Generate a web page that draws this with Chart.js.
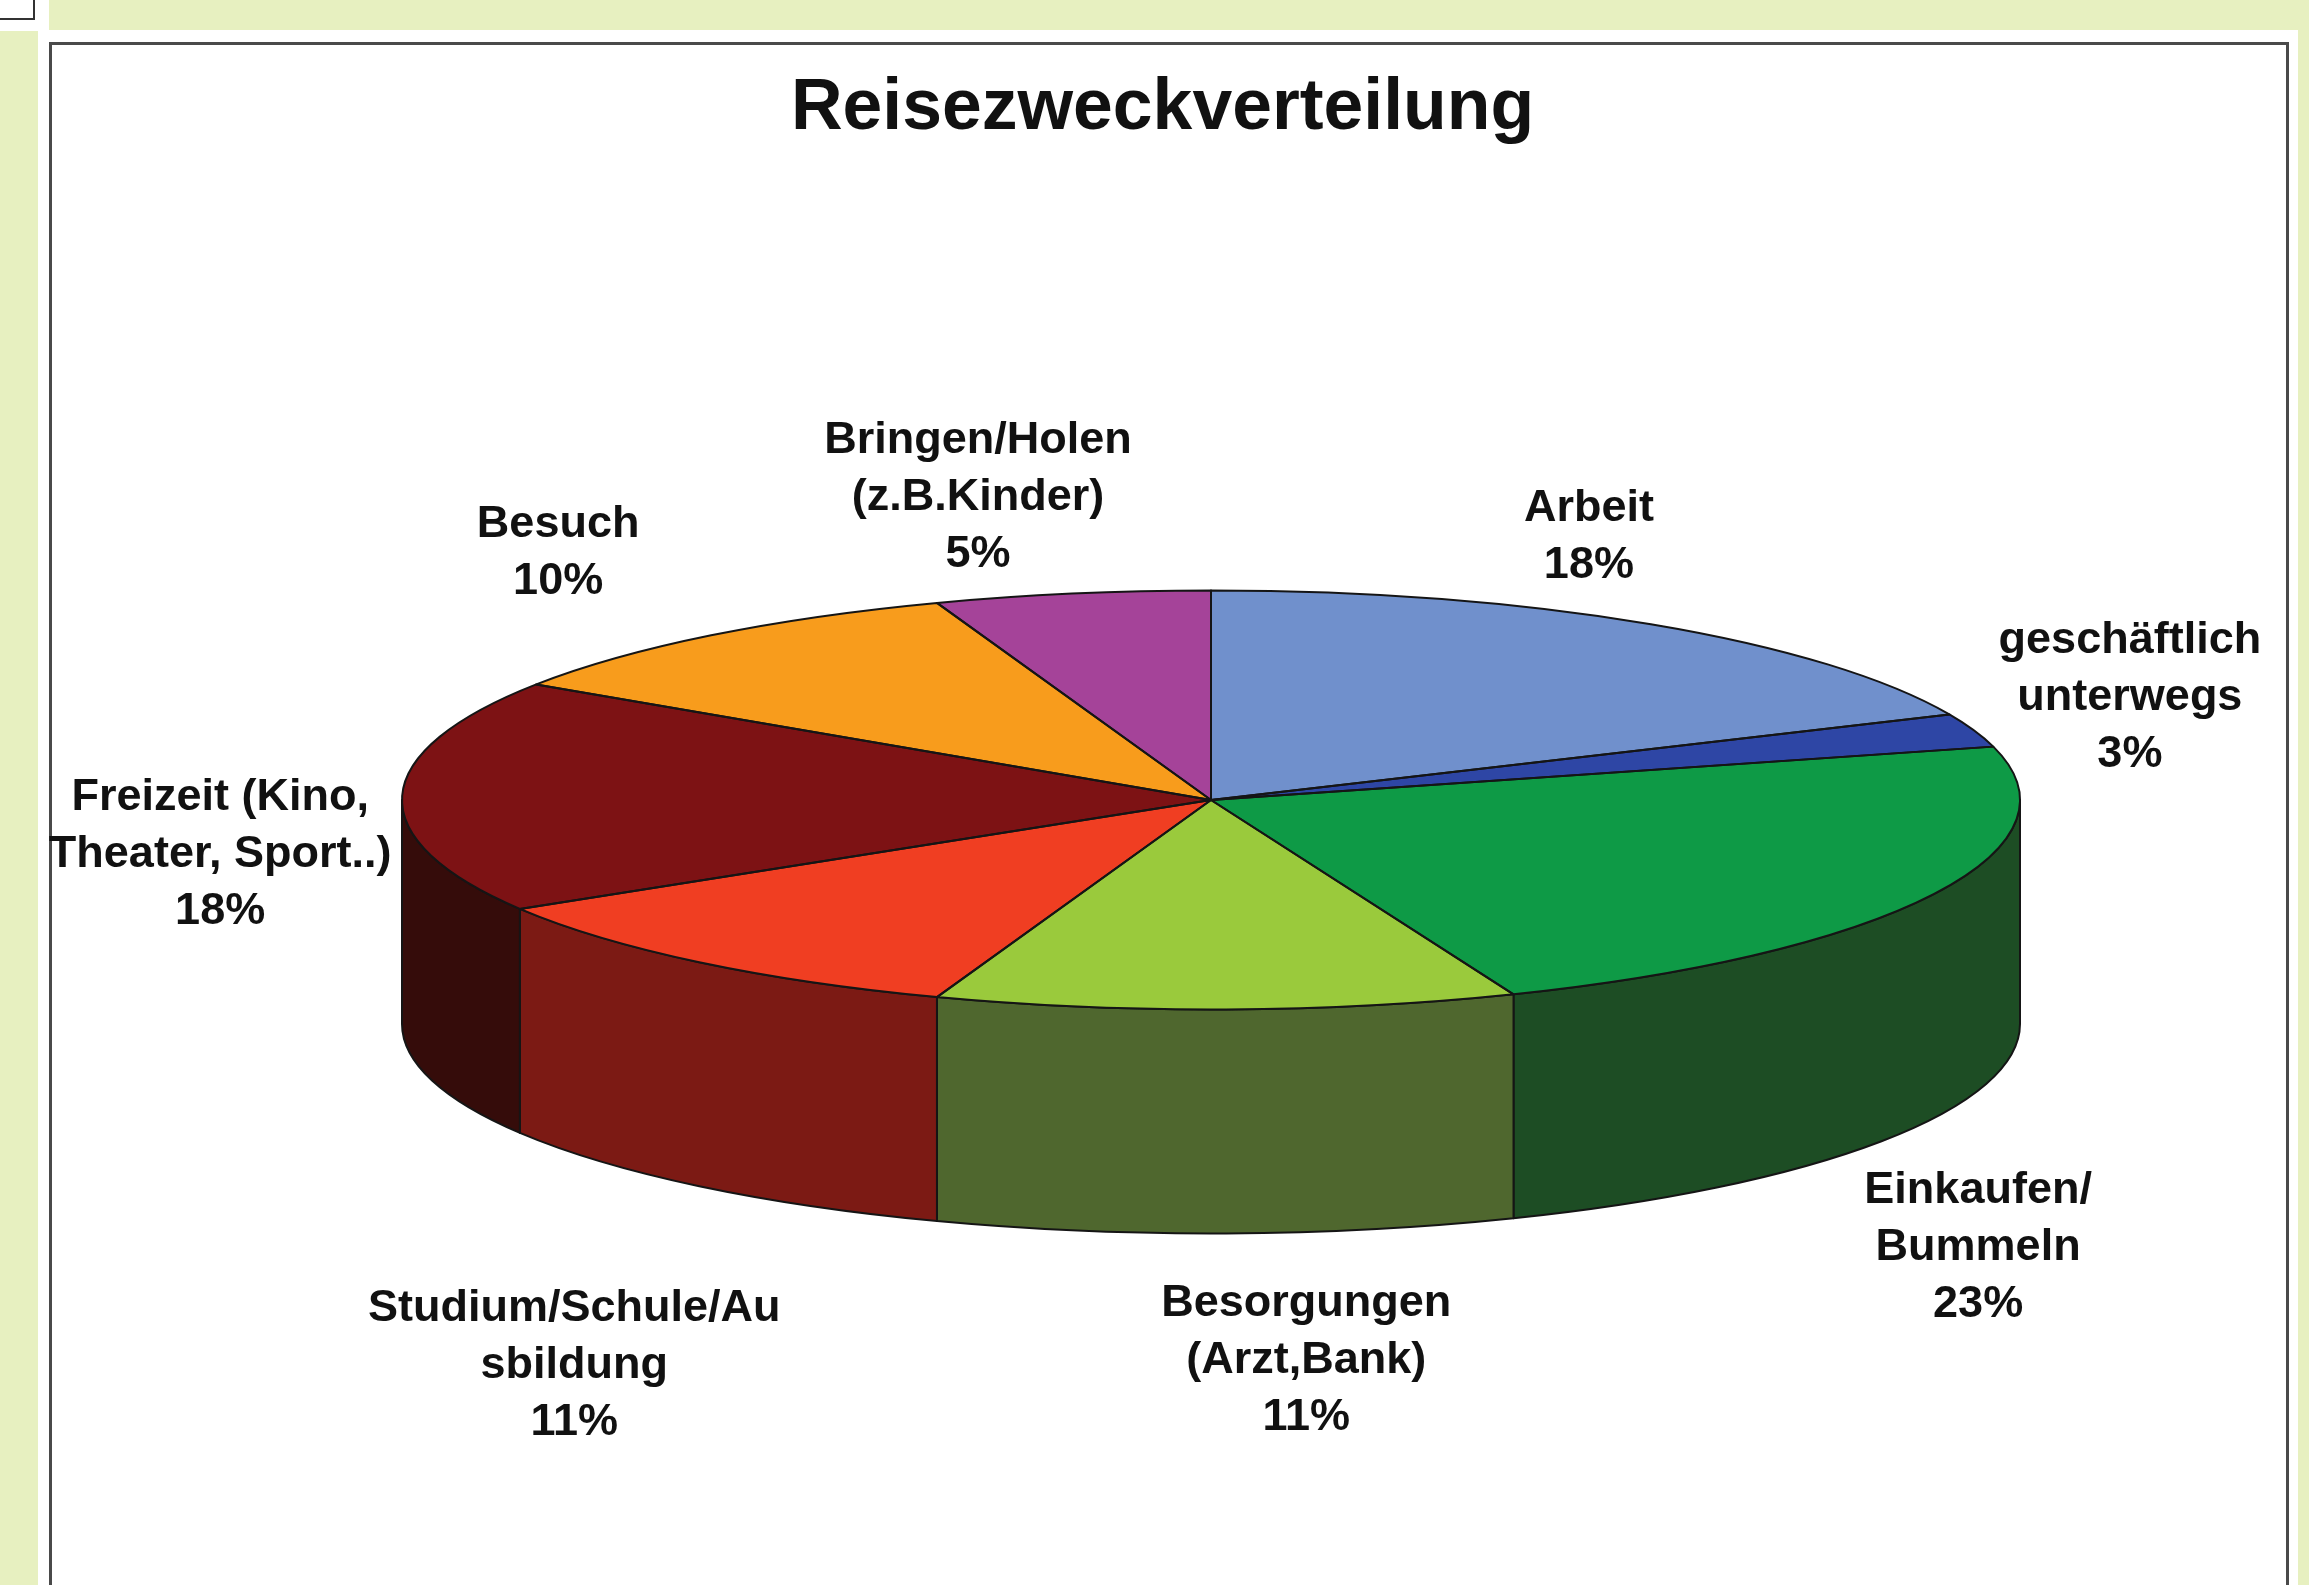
<!DOCTYPE html>
<html lang="de">
<head>
<meta charset="utf-8">
<title>Reisezweckverteilung</title>
<script src="https://cdn.jsdelivr.net/npm/chart.js@4"></script>
<style>
html,body{margin:0;padding:0;width:2309px;height:1585px;overflow:hidden;background:#fff}
.strip{position:absolute;background:#E7F0C0}
#corner{position:absolute;left:-4px;top:-4px;width:35px;height:20px;border:2.5px solid #333;background:#fff}
#frame{position:absolute;left:49px;top:42px;width:2234px;height:1600px;border:3px solid #4a4a4a;background:#fff}
#chart{position:absolute;left:39px;top:0}
</style>
</head>
<body>
<div class="strip" style="left:49px;top:0;width:2260px;height:30px"></div>
<div class="strip" style="left:0;top:31px;width:38px;height:1554px"></div>
<div class="strip" style="left:2298px;top:30px;width:11px;height:1555px"></div>
<div id="corner"></div>
<div id="frame"></div>
<canvas id="chart" width="2247" height="1585"></canvas>
<script>
const chartTitle = 'Reisezweckverteilung';
const categories = ['Arbeit', 'geschäftlich\nunterwegs', 'Einkaufen/\nBummeln', 'Besorgungen\n(Arzt,Bank)',
  'Studium/Schule/Au\nsbildung', 'Freizeit (Kino,\nTheater, Sport..)', 'Besuch', 'Bringen/Holen\n(z.B.Kinder)'];
const sliceValues = [18.3, 2.6, 23.0, 11.6, 10.8, 18.0, 10.2, 5.5];
const percentLabels = ['18%', '3%', '23%', '11%', '11%', '18%', '10%', '5%'];
const topColors = ['#7090CC', '#2E46A5', '#0E9A46', '#9ACA3C', '#F03E22', '#7D1214', '#F89C1C', '#A54399'];
const wallColors = ['#4A6088', '#1F2F6E', '#1D4D24', '#4F672E', '#7C1A14', '#350C0A', '#A5680F', '#6E2C66'];

// Layout of the tilted drawing
const TILT = 209.5 / 809;   // vertical squash of the pie disc
const RADIUS = 809;
const DEPTH = 224;
const CENTER_Y = 800;
const SHIFT_X = 48.5;       // the disc sits right of the title's centre
const LABEL_NUDGE = [[-62,-87],[156,-33],[44,354],[80,351],[-125,403],[-182,59],[-153,-82],[-94,-96]];
const LABEL_FONT = 'bold 45px "Liberation Sans", Arial, sans-serif';
const LABEL_LINE = 57;
const EDGE = '#151515';

const tilted3d = {
  id: 'tilted3d',
  beforeDatasetsDraw(chart) {
    const ctx = chart.ctx, arcs = chart.getDatasetMeta(0).data;
    ctx.save();
    ctx.lineWidth = 2; ctx.strokeStyle = EDGE; ctx.lineJoin = 'round';
    arcs.forEach((arc, i) => {
      const a0 = Math.max(arc.startAngle, 0), a1 = Math.min(arc.endAngle, Math.PI);
      if (a1 <= a0) return;
      const rx = arc.outerRadius, ry = rx * TILT, cx = arc.x + SHIFT_X;
      ctx.beginPath();
      ctx.ellipse(cx, CENTER_Y, rx, ry, 0, a0, a1);
      ctx.ellipse(cx, CENTER_Y + DEPTH, rx, ry, 0, a1, a0, true);
      ctx.closePath();
      ctx.fillStyle = wallColors[i];
      ctx.fill(); ctx.stroke();
    });
    ctx.restore();
    // squash the library's own arcs into the tilted disc
    const y0 = arcs[0].y;
    ctx.save();
    ctx.translate(SHIFT_X, CENTER_Y); ctx.scale(1, TILT); ctx.translate(0, -y0);
  },
  afterDatasetsDraw(chart) {
    const ctx = chart.ctx, arcs = chart.getDatasetMeta(0).data;
    ctx.restore();
    ctx.save();
    ctx.lineWidth = 2; ctx.strokeStyle = EDGE; ctx.lineJoin = 'round';
    arcs.forEach(arc => {
      const rx = arc.outerRadius, ry = rx * TILT, cx = arc.x + SHIFT_X;
      ctx.beginPath();
      ctx.moveTo(cx, CENTER_Y);
      ctx.ellipse(cx, CENTER_Y, rx, ry, 0, arc.startAngle, arc.endAngle);
      ctx.closePath();
      ctx.stroke();
    });
    ctx.font = LABEL_FONT; ctx.fillStyle = '#111'; ctx.textAlign = 'center'; ctx.textBaseline = 'middle';
    arcs.forEach((arc, i) => {
      const mid = (arc.startAngle + arc.endAngle) / 2, rx = arc.outerRadius, ry = rx * TILT;
      const x = arc.x + SHIFT_X + rx * Math.cos(mid) + LABEL_NUDGE[i][0];
      const y = CENTER_Y + ry * Math.sin(mid) + LABEL_NUDGE[i][1];
      const lines = categories[i].split('\n').concat(percentLabels[i]);
      lines.forEach((t, k) => ctx.fillText(t, x, y + (k - (lines.length - 1) / 2) * LABEL_LINE));
    });
    ctx.restore();
  }
};

new Chart(document.getElementById('chart'), {
  type: 'pie',
  data: {
    labels: categories.map(c => c.replace('\n', ' ')),
    datasets: [{ data: sliceValues, backgroundColor: topColors, borderWidth: 0, radius: RADIUS, clip: false }]
  },
  options: {
    responsive: false,
    animation: false,
    layout: { padding: 0 },
    plugins: {
      legend: { display: false },
      tooltip: { enabled: false },
      title: {
        display: true, text: chartTitle, color: '#111',
        font: { family: '"Liberation Sans", Arial, sans-serif', size: 71.5, weight: 'bold' },
        padding: { top: 66, bottom: 10 }
      }
    }
  },
  plugins: [tilted3d]
});
</script>
</body>
</html>
